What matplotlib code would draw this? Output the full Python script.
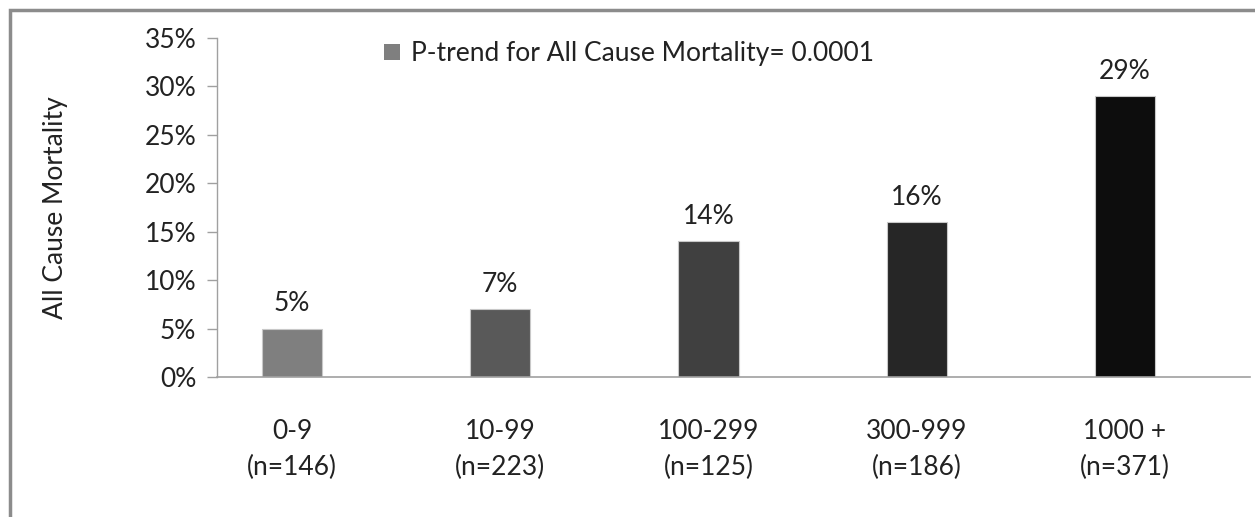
import matplotlib
matplotlib.use("Agg")
import matplotlib.pyplot as plt
from matplotlib.patches import Rectangle
from matplotlib.ticker import FuncFormatter

# Data
categories = ["0-9\n(n=146)", "10-99\n(n=223)", "100-299\n(n=125)", "300-999\n(n=186)", "1000 +\n(n=371)"]
mortality = [5, 7, 14, 16, 29]
bar_colors = ["#7f7f7f", "#595959", "#404040", "#262626", "#0d0d0d"]
legend_label = "P-trend for All Cause Mortality= 0.0001"

plt.rcParams['font.family'] = ['Lato', 'DejaVu Sans']
FS = 19

fig = plt.figure(figsize=(12.55, 5.17), dpi=100)
ax = fig.add_axes([217 / 1255, 140 / 517, 1033 / 1255, 339 / 517])

x = list(range(len(categories)))
bars = ax.bar(x, mortality, width=0.29, color=bar_colors, edgecolor="#c8c8c8", linewidth=0.8)
ax.bar_label(bars, labels=[f"{v}%" for v in mortality], padding=9, fontsize=FS, color="#222222")

ax.set_xlim(-0.36, 4.6)
ax.set_ylim(0, 35)
ax.set_yticks(range(0, 36, 5))
ax.yaxis.set_major_formatter(FuncFormatter(lambda v, p: f"{v:.0f}%"))
ax.set_xticks(x)
ax.set_xticklabels(categories, fontsize=FS, color="#222222", linespacing=1.55)
ax.tick_params(axis="x", length=0, pad=30)
ax.tick_params(axis="y", length=7, width=1, color="#a0a0a0", labelsize=FS, labelcolor="#222222", pad=8)

for side in ["top", "right"]:
    ax.spines[side].set_visible(False)
ax.spines["left"].set_color("#a0a0a0")
ax.spines["bottom"].set_color("#a0a0a0")
ax.spines["left"].set_linewidth(1)
ax.spines["bottom"].set_linewidth(1.2)

ax.set_ylabel("All Cause Mortality", fontsize=FS, color="#222222", labelpad=55)

# Legend: single grey square entry
handle = Rectangle((0, 0), 1, 1, facecolor="#7f7f7f", edgecolor="none")
ax.legend([handle], [legend_label], loc="upper left", bbox_to_anchor=(0.139, 1.06),
          frameon=False, fontsize=FS, handlelength=0.6, handleheight=0.6,
          handletextpad=0.4, labelcolor="#222222")

# Figure border (top and left edges visible, rest runs off the image)
border = Rectangle((10 / 1255, -0.05), 1.1, (507 / 517) + 0.05, transform=fig.transFigure,
                   fill=False, edgecolor="#8c8c8c", linewidth=2.5, clip_on=False)
fig.patches.append(border)

plt.savefig("out.png", dpi=100)
plt.close()
